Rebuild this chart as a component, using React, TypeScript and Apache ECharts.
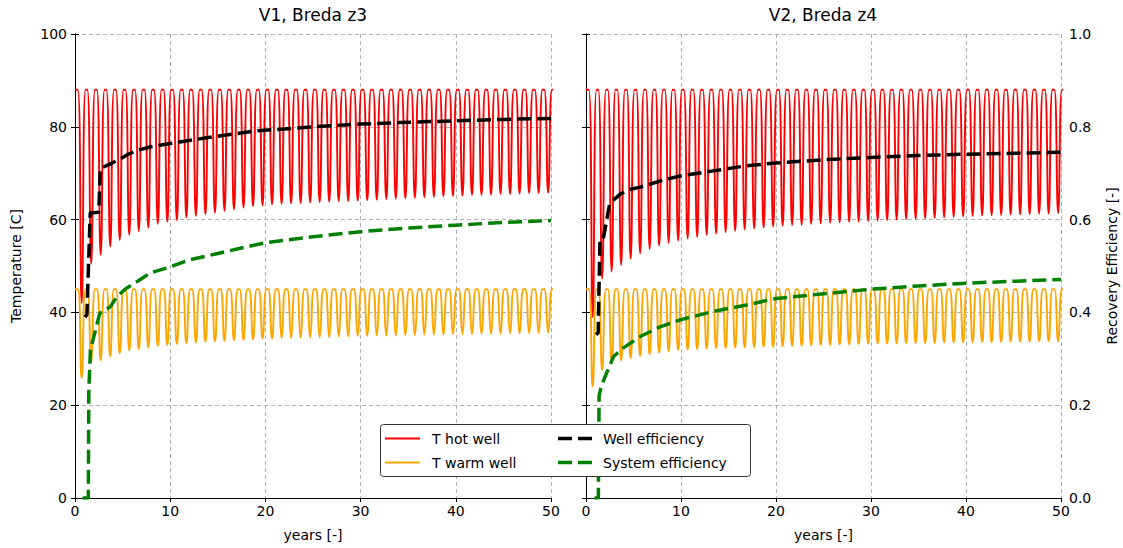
import React, { useEffect, useRef } from 'react';
import * as echarts from 'echarts';

// Peak temperatures of the storage cycles
const hotPeak = 88;
const warmPeak = 45;

// Trough temperature of every annual cycle (years 0..49)
const hotTroughV1 = [42.0, 50.5, 52.4, 54.2, 55.6, 56.7, 57.5, 58.3, 59.1, 59.6, 59.9, 60.5, 60.8, 61.2, 61.5, 61.9, 62.2, 62.6, 62.9, 63.1, 63.3, 63.4, 63.5, 63.6, 63.7, 63.8, 63.9, 64.0, 64.0, 64.1, 64.2, 64.3, 64.4, 64.5, 64.6, 64.7, 64.8, 64.9, 65.0, 65.1, 65.2, 65.3, 65.3, 65.4, 65.5, 65.5, 65.6, 65.7, 65.7, 65.8];
const warmTroughV1 = [25.8, 29.4, 29.7, 30.5, 31.2, 31.8, 32.1, 32.5, 32.8, 33.0, 33.2, 33.4, 33.5, 33.7, 33.8, 33.9, 34.0, 34.1, 34.2, 34.4, 34.4, 34.5, 34.5, 34.6, 34.6, 34.7, 34.7, 34.8, 34.8, 34.9, 34.9, 35.0, 35.0, 35.0, 35.1, 35.1, 35.2, 35.2, 35.2, 35.3, 35.3, 35.3, 35.4, 35.4, 35.4, 35.5, 35.5, 35.5, 35.6, 35.6];
const hotTroughV2 = [39.0, 47.3, 48.8, 50.2, 51.6, 52.7, 53.7, 54.4, 55.0, 55.5, 55.9, 56.3, 56.7, 57.0, 57.3, 57.6, 57.9, 58.1, 58.3, 58.5, 58.7, 58.8, 58.9, 59.1, 59.2, 59.3, 59.4, 59.5, 59.6, 59.7, 59.8, 59.9, 60.0, 60.1, 60.2, 60.3, 60.4, 60.5, 60.6, 60.7, 60.8, 60.9, 60.9, 61.0, 61.1, 61.1, 61.2, 61.3, 61.3, 61.4];
const warmTroughV2 = [24.0, 27.6, 29.0, 29.6, 30.1, 30.6, 31.0, 31.3, 31.6, 31.9, 32.0, 32.1, 32.2, 32.3, 32.3, 32.4, 32.5, 32.5, 32.6, 32.6, 32.7, 32.8, 32.8, 32.9, 33.0, 33.0, 33.1, 33.1, 33.2, 33.3, 33.3, 33.3, 33.3, 33.4, 33.4, 33.4, 33.4, 33.5, 33.5, 33.5, 33.5, 33.6, 33.6, 33.6, 33.7, 33.7, 33.7, 33.8, 33.8, 33.8];

// Recovery efficiencies [year, efficiency]
const wellEffV1 = [[1.05, 0.39], [1.25, 0.395], [1.6, 0.614], [2.5, 0.616], [2.65, 0.71], [3.5, 0.718], [4.5, 0.728], [5.5, 0.74], [6.5, 0.749], [8, 0.757], [10, 0.764], [14, 0.777], [19, 0.791], [25, 0.8], [30, 0.806], [34, 0.809], [40, 0.813], [45, 0.816], [50, 0.818]];
const sysEffV1 = [[0.8, 0], [1.4, 0], [1.45, 0.23], [1.62, 0.319], [2.6, 0.398], [3.7, 0.412], [4.4, 0.434], [5.4, 0.452], [6.5, 0.466], [7.9, 0.485], [10, 0.498], [12, 0.513], [15, 0.527], [17.7, 0.54], [20, 0.55], [25, 0.563], [30, 0.574], [35, 0.582], [40, 0.588], [45, 0.594], [50, 0.598]];
const wellEffV2 = [[1.05, 0.352], [1.28, 0.356], [1.47, 0.556], [1.8, 0.557], [2.5, 0.635], [3.6, 0.655], [4.6, 0.665], [5.7, 0.67], [8.1, 0.685], [9.9, 0.694], [13.4, 0.705], [16.9, 0.716], [20, 0.722], [25, 0.729], [30, 0.734], [35, 0.738], [40, 0.741], [45, 0.743], [50, 0.745]];
const sysEffV2 = [[0.9, 0], [1.3, 0], [1.38, 0.22], [1.6, 0.24], [2.0, 0.261], [2.9, 0.305], [3.9, 0.323], [5.7, 0.348], [7.8, 0.369], [9.9, 0.384], [13.4, 0.402], [16.9, 0.416], [20, 0.43], [25, 0.44], [30, 0.45], [35, 0.457], [40, 0.463], [45, 0.467], [50, 0.471]];

const titles = ['V1, Breda z3', 'V2, Breda z4'];
const legendNames = ['T hot well', 'T warm well', 'Well efficiency', 'System efficiency'];
const colors = { hot: '#ff0000', warm: '#ffa500', well: '#000000', sys: '#008000' };

// Builds the annual storage cycles from the read peak and trough values:
// each trough is listed twice so the smoothed line keeps a sharp V there,
// and each peak is a short plateau.
function cycles(peak: number, troughs: number[]) {
  const pts: number[][] = [[0, peak], [0.3, peak]];
  troughs.forEach((t, k) => {
    pts.push([k + 0.7, t]);
    pts.push([k + 0.7, t]);
    pts.push([k + 1.1, peak]);
    pts.push([k + 1.3, peak]);
  });
  return pts;
}

const FONT = 'DejaVu Sans';

export default function App() {
  const ref = useRef<HTMLDivElement>(null);
  useEffect(() => {
    document.body.style.margin = '0';
    const chart = echarts.init(ref.current!, null, { renderer: 'svg' });
    const gridLine = { show: true, lineStyle: { color: '#b0b0b0', type: [4, 3], width: 1 } };
    const axisLine = { show: true, lineStyle: { color: '#000', width: 1 } };
    const tick = { show: true, inside: false, length: 4, lineStyle: { color: '#000' } };
    const label = { fontSize: 14, color: '#000', fontFamily: FONT };
    const xBottom = (gi: number) => ({
      type: 'value', gridIndex: gi, min: 0, max: 50, interval: 10, position: 'bottom',
      axisLine, axisTick: tick, axisLabel: { ...label, margin: 6 }, splitLine: gridLine,
      name: 'years [-]', nameLocation: 'middle', nameGap: 30, nameTextStyle: label,
    });
    const xTop = (gi: number) => ({
      type: 'value', gridIndex: gi, min: 0, max: 50, position: 'top',
      axisLine, axisTick: { show: false }, axisLabel: { show: false }, splitLine: { show: false },
    });
    const hotLine = { color: colors.hot, width: 1.9 };
    const warmLine = { color: colors.warm, width: 1.9 };
    const dashed = (c: string) => ({ color: c, width: 3.5, type: [14, 6] });
    const osc = { type: 'line', showSymbol: false, symbol: 'none', smooth: 0.5 };
    const eff = { type: 'line', showSymbol: false, symbol: 'none' };
    const LZ = 100;
    const legendText = (i: number, x: number, y: number) => ({
      type: 'text', z: LZ + 1, x, y,
      style: { text: legendNames[i], fill: '#000', fontSize: 14, fontFamily: FONT, verticalAlign: 'middle' },
    });
    const option = {
      animation: false,
      grid: [
        { left: 75, right: 572, top: 34, bottom: 50 },
        { left: 586, right: 62, top: 34, bottom: 50 },
      ],
      xAxis: [xBottom(0), xTop(0), xBottom(1), xTop(1)],
      yAxis: [
        {
          type: 'value', gridIndex: 0, min: 0, max: 100, interval: 20, position: 'left',
          axisLine, axisTick: tick, axisLabel: { ...label, margin: 8 }, splitLine: gridLine,
          name: 'Temperature [C]', nameLocation: 'middle', nameGap: 52, nameTextStyle: label,
        },
        {
          type: 'value', gridIndex: 0, min: 0, max: 1, interval: 0.2, position: 'right',
          axisLine, axisTick: tick, axisLabel: { show: false }, splitLine: { show: false },
        },
        {
          type: 'value', gridIndex: 1, min: 0, max: 100, interval: 20, position: 'left',
          axisLine, axisTick: tick, axisLabel: { show: false }, splitLine: gridLine,
        },
        {
          type: 'value', gridIndex: 1, min: 0, max: 1, interval: 0.2, position: 'right',
          axisLine, axisTick: tick,
          axisLabel: { ...label, margin: 8, formatter: (v: number) => v.toFixed(1) },
          splitLine: { show: false },
          name: 'Recovery Efficiency [-]', nameLocation: 'middle', nameGap: 44, nameRotate: 90,
          nameTextStyle: label,
        },
      ],
      series: [
        { ...osc, name: legendNames[0], xAxisIndex: 0, yAxisIndex: 0, data: cycles(hotPeak, hotTroughV1), lineStyle: hotLine, z: 2 },
        { ...osc, name: legendNames[1], xAxisIndex: 0, yAxisIndex: 0, data: cycles(warmPeak, warmTroughV1), lineStyle: warmLine, z: 3 },
        { ...eff, name: legendNames[2], xAxisIndex: 0, yAxisIndex: 1, data: wellEffV1, lineStyle: dashed(colors.well), z: 4 },
        { ...eff, name: legendNames[3], xAxisIndex: 0, yAxisIndex: 1, data: sysEffV1, lineStyle: dashed(colors.sys), z: 4 },
        { ...osc, name: legendNames[0], xAxisIndex: 2, yAxisIndex: 2, data: cycles(hotPeak, hotTroughV2), lineStyle: hotLine, z: 2 },
        { ...osc, name: legendNames[1], xAxisIndex: 2, yAxisIndex: 2, data: cycles(warmPeak, warmTroughV2), lineStyle: warmLine, z: 3 },
        { ...eff, name: legendNames[2], xAxisIndex: 2, yAxisIndex: 3, data: wellEffV2, lineStyle: dashed(colors.well), z: 4 },
        { ...eff, name: legendNames[3], xAxisIndex: 2, yAxisIndex: 3, data: sysEffV2, lineStyle: dashed(colors.sys), z: 4 },
      ],
      graphic: [
        { type: 'text', x: 313, y: 15, style: { text: titles[0], fill: '#000', fontSize: 17, fontFamily: FONT, align: 'center', verticalAlign: 'middle' } },
        { type: 'text', x: 823, y: 15, style: { text: titles[1], fill: '#000', fontSize: 17, fontFamily: FONT, align: 'center', verticalAlign: 'middle' } },
        { type: 'rect', z: LZ, shape: { x: 380.5, y: 424.5, width: 370, height: 52, r: 3 }, style: { fill: '#ffffff', stroke: '#333', lineWidth: 1 } },
        { type: 'line', z: LZ + 1, shape: { x1: 385, y1: 438.5, x2: 420, y2: 438.5 }, style: { stroke: colors.hot, lineWidth: 2 } },
        { type: 'line', z: LZ + 1, shape: { x1: 385, y1: 462.5, x2: 420, y2: 462.5 }, style: { stroke: colors.warm, lineWidth: 2 } },
        { type: 'line', z: LZ + 1, shape: { x1: 558, y1: 438.5, x2: 592, y2: 438.5 }, style: { stroke: colors.well, lineWidth: 3.5, lineDash: [14, 6] } },
        { type: 'line', z: LZ + 1, shape: { x1: 558, y1: 462.5, x2: 592, y2: 462.5 }, style: { stroke: colors.sys, lineWidth: 3.5, lineDash: [14, 6] } },
        legendText(0, 432, 438.5),
        legendText(1, 432, 462.5),
        legendText(2, 603, 438.5),
        legendText(3, 603, 462.5),
      ],
    };
    chart.setOption(option as any);
    return () => chart.dispose();
  }, []);
  return <div ref={ref} style={{ width: 1123, height: 548 }} />;
}
